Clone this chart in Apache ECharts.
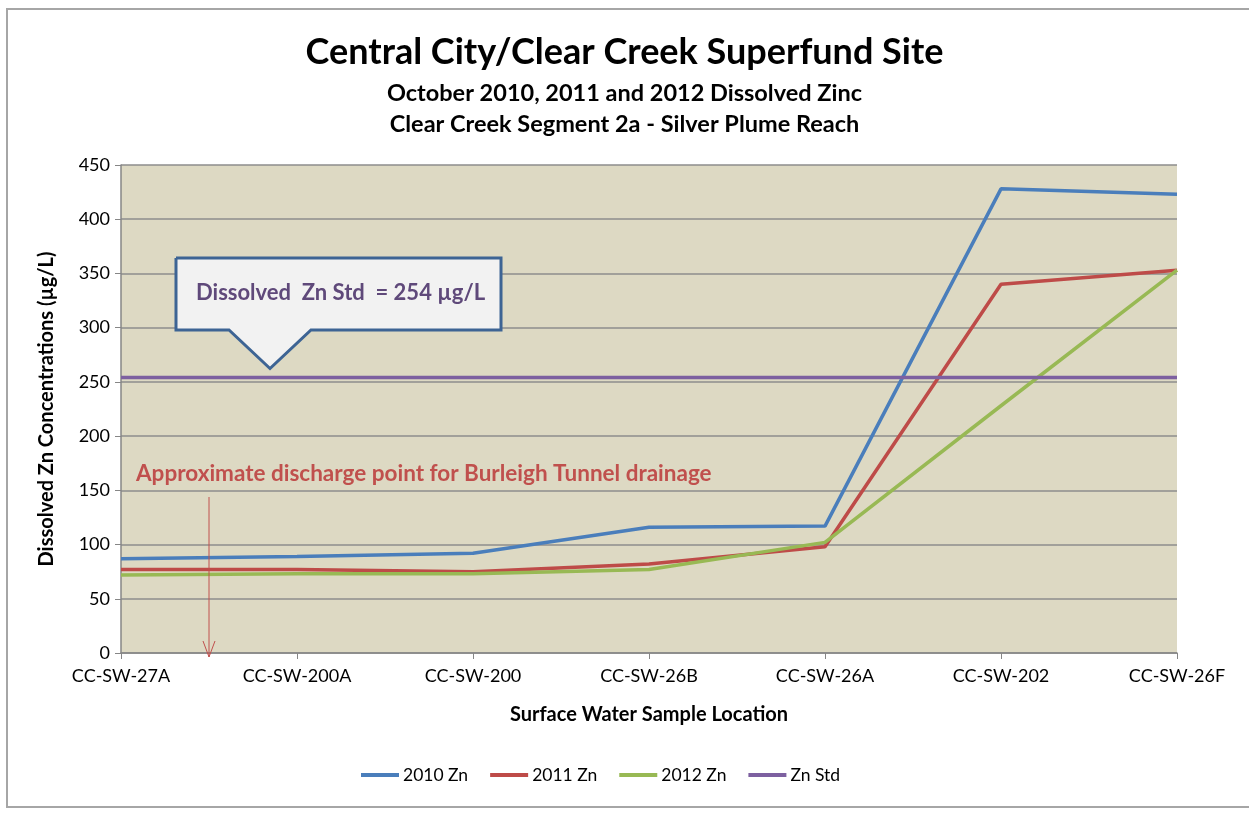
<!DOCTYPE html>
<html>
<head>
<meta charset="utf-8">
<script src="https://cdn.jsdelivr.net/npm/echarts@6/dist/echarts.min.js"></script>
<style>
  html, body { margin: 0; padding: 0; background: #fff; }
  #chart { width: 1249px; height: 814px; }
</style>
</head>
<body>
<div id="chart"></div>
<script>
// ─── data ───
const LOCATIONS = ["CC-SW-27A", "CC-SW-200A", "CC-SW-200", "CC-SW-26B", "CC-SW-26A", "CC-SW-202", "CC-SW-26F"];
const ZN_2010 = [87, 89, 92, 116, 117, 428, 423];
const ZN_2011 = [77, 77, 75, 82, 98, 340, 353];
const ZN_2012 = [72, 73, 73, 77, 102, 228, 353];
const ZN_STD = [254, 254, 254, 254, 254, 254, 254];
const STD_VALUE = 254;

const FONT = "Lato, 'Noto Sans', sans-serif";
const COLORS = { y2010: "#4A7EBB", y2011: "#BE4B48", y2012: "#98B954", std: "#7D60A0" };

const chart = echarts.init(document.getElementById("chart"));

const lineSeries = (name, data, color) => ({
  name, type: "line", data, symbol: "none", smooth: false,
  lineStyle: { color, width: 3.5 }, itemStyle: { color }, z: 3
});

chart.setOption({
  animation: false,
  textStyle: { fontFamily: FONT },
  title: [
    { text: "Central City/Clear Creek Superfund Site", left: "center", top: 29,
      textStyle: { fontSize: 36, fontWeight: "bold", color: "#000", fontFamily: FONT } },
    { text: "October 2010, 2011 and 2012 Dissolved Zinc", left: "center", top: 76,
      textStyle: { fontSize: 23.5, fontWeight: "bold", color: "#000", fontFamily: FONT } },
    { text: "Clear Creek Segment 2a - Silver Plume Reach", left: "center", top: 107,
      textStyle: { fontSize: 23.5, fontWeight: "bold", color: "#000", fontFamily: FONT } }
  ],
  legend: {
    bottom: 25, left: 356, itemWidth: 38, itemHeight: 4, itemGap: 22, icon: "rect",
    textStyle: { fontSize: 17.5, color: "#000", fontFamily: FONT, padding: [0, 0, 0, -1] },
    data: ["2010 Zn", "2011 Zn", "2012 Zn", "Zn Std"]
  },
  grid: { left: 121, right: 72, top: 165, bottom: 161, show: true, backgroundColor: "#DDD9C3", borderWidth: 0 },
  xAxis: {
    type: "category", data: LOCATIONS, boundaryGap: false,
    name: "Surface Water Sample Location", nameLocation: "middle", nameGap: 52,
    nameTextStyle: { fontSize: 20, fontWeight: "bold", color: "#000" },
    axisLine: { lineStyle: { color: "#868686", width: 1.5 } },
    axisTick: { show: true, length: 6, lineStyle: { color: "#868686" } },
    axisLabel: { fontSize: 18, color: "#000", margin: 14 },
    splitLine: { show: false }
  },
  yAxis: {
    type: "value", min: 0, max: 450, interval: 50,
    name: "Dissolved Zn Concentrations (µg/L)", nameLocation: "middle", nameGap: 64,
    nameTextStyle: { fontSize: 20, fontWeight: "bold", color: "#000" },
    axisLine: { show: true, lineStyle: { color: "#868686", width: 1.5 } },
    axisTick: { show: true, length: 6, lineStyle: { color: "#868686" } },
    axisLabel: { fontSize: 18, color: "#000", margin: 11 },
    splitLine: { lineStyle: { color: "#8C8C8C", width: 1.5 } }
  },
  series: [
    lineSeries("2010 Zn", ZN_2010, COLORS.y2010),
    lineSeries("2011 Zn", ZN_2011, COLORS.y2011),
    lineSeries("2012 Zn", ZN_2012, COLORS.y2012),
    lineSeries("Zn Std", ZN_STD, COLORS.std)
  ]
});

// annotations placed from the axes
const x0 = chart.convertToPixel({ xAxisIndex: 0 }, 0);
const x1 = chart.convertToPixel({ xAxisIndex: 0 }, 1);
const yStd = chart.convertToPixel({ yAxisIndex: 0 }, STD_VALUE);
const yZero = chart.convertToPixel({ yAxisIndex: 0 }, 0);
const arrowX = x0 + (x1 - x0) * 0.5;
const tipY = yStd - 9;

chart.setOption({
  graphic: [
    // outer chart-area border
    { type: "rect", shape: { x: 7, y: 9, width: 1300, height: 798 },
      style: { fill: "none", stroke: "#A6A6A6", lineWidth: 2 }, silent: true },
    // callout box
    { type: "polyline", z: 10,
      shape: { points: [[176, 258], [501, 258], [501, 330], [311, 330], [270, tipY], [229, 330], [176, 330], [176, 258]] },
      style: { fill: "#F2F2F2", stroke: "#3D6494", lineWidth: 3, lineJoin: "miter" } },
    { type: "text", z: 11, left: 196, top: 282,
      style: { text: "Dissolved  Zn Std  = 254 µg/L", fill: "#5F497A", font: "bold 22px " + FONT } },
    // discharge point note
    { type: "text", z: 11, left: 136, top: 462,
      style: { text: "Approximate discharge point for Burleigh Tunnel drainage", fill: "#C0504D", font: "bold 22.5px " + FONT } },
    { type: "line", z: 11, shape: { x1: arrowX, y1: 497, x2: arrowX, y2: yZero + 4 },
      style: { stroke: "#C0504D", lineWidth: 1 } },
    { type: "polyline", z: 11,
      shape: { points: [[arrowX - 6, yZero - 12], [arrowX, yZero + 4], [arrowX + 6, yZero - 12]] },
      style: { stroke: "#C0504D", lineWidth: 1, fill: "none" } }
  ]
});
</script>
</body>
</html>
